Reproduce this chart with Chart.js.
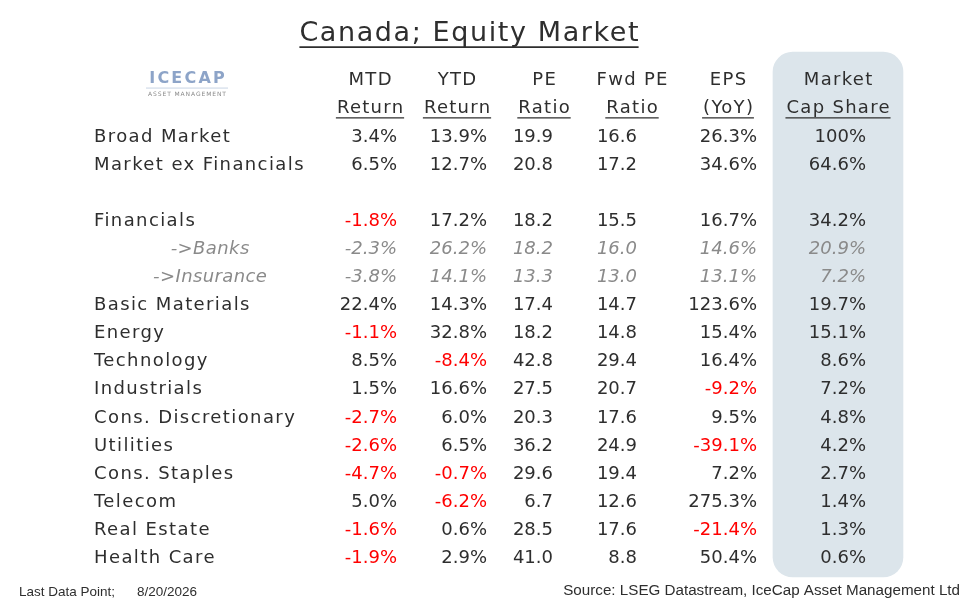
<!DOCTYPE html>
<html>
<head>
<meta charset="utf-8">
<script src="https://cdn.jsdelivr.net/npm/chart.js@4.4.1/dist/chart.umd.min.js"></script>
<style>
  html, body { margin: 0; padding: 0; background: #fff; }
  #wrap { width: 972px; height: 608px; }
</style>
</head>
<body>
<div id="wrap"><canvas id="tableChart" width="972" height="608"></canvas></div>
<script>
// Table data
const categories = ['Broad Market', 'Market ex Financials', 'Financials', '->Banks', '->Insurance',
  'Basic Materials', 'Energy', 'Technology', 'Industrials', 'Cons. Discretionary', 'Utilities',
  'Cons. Staples', 'Telecom', 'Real Estate', 'Health Care'];
const mtdReturn   = [3.4, 6.5, -1.8, -2.3, -3.8, 22.4, -1.1, 8.5, 1.5, -2.7, -2.6, -4.7, 5.0, -1.6, -1.9];
const ytdReturn   = [13.9, 12.7, 17.2, 26.2, 14.1, 14.3, 32.8, -8.4, 16.6, 6.0, 6.5, -0.7, -6.2, 0.6, 2.9];
const peRatio     = [19.9, 20.8, 18.2, 18.2, 13.3, 17.4, 18.2, 42.8, 27.5, 20.3, 36.2, 29.6, 6.7, 28.5, 41.0];
const fwdPeRatio  = [16.6, 17.2, 15.5, 16.0, 13.0, 14.7, 14.8, 29.4, 20.7, 17.6, 24.9, 19.4, 12.6, 17.6, 8.8];
const epsYoY      = [26.3, 34.6, 16.7, 14.6, 13.1, 123.6, 15.4, 16.4, -9.2, 9.5, -39.1, 7.2, 275.3, -21.4, 50.4];
const mktCapShare = [100, 64.6, 34.2, 20.9, 7.2, 19.7, 15.1, 8.6, 7.2, 4.8, 4.2, 2.7, 1.4, 1.3, 0.6];
const headerTop    = ['MTD', 'YTD', 'PE', 'Fwd PE', 'EPS', 'Market'];
const headerBottom = ['Return', 'Return', 'Ratio', 'Ratio', '(YoY)', 'Cap Share'];
const pctColumn    = [true, true, false, false, true, true];

const columns = [mtdReturn, ytdReturn, peRatio, fwdPeRatio, epsYoY, mktCapShare];

// layout (x in pixels, y in row units)
const colRight = [397, 487, 553, 637, 757, 866];
const colMid = [370, 457, 544, 632, 728, 838];
const labelX = 94, subLabelMid = 210;
const slot = i => (i < 2 ? i : i + 1); // blank line after Market ex Financials
const isSub = name => name.startsWith('->');

const FONT = '"DejaVu Sans", Verdana, sans-serif';
const SIZE = 18;
const DARK = '#2e2e2e';
const GREY = '#8a8a8a';

function fmt(v, pct) {
  if (v === 100) return '100%';
  return v.toFixed(1) + (pct ? '%' : '');
}

const datasets = columns.map((col, c) => ({
  type: 'scatter',
  label: headerTop[c],
  data: col.map((v, i) => ({ x: colRight[c], y: slot(i) })),
  pointRadius: 0,
  pointHoverRadius: 0
}));

// shaded market cap column
datasets.push({
  type: 'bar',
  label: 'shade',
  data: [{ x: colMid[5], y: [-2.95, 15.73] }],
  backgroundColor: '#dce5eb',
  barThickness: 130,
  borderRadius: 20,
  borderSkipped: false,
  order: 10
});

// draw text with its cap-height centred on y
function text(ctx, str, x, y, size, maxW) {
  if (maxW) ctx.fillText(str, x, y + size * 0.365, maxW);
  else ctx.fillText(str, x, y + size * 0.365);
}

function underline(ctx, x, y, w) {
  ctx.beginPath();
  ctx.moveTo(x, y);
  ctx.lineTo(x + w, y);
  ctx.stroke();
}

const tablePlugin = {
  id: 'tableText',
  afterDatasetsDraw(chart) {
    const ctx = chart.ctx;
    const xs = chart.scales.x, ys = chart.scales.y;
    ctx.save();
    ctx.textBaseline = 'alphabetic';

    // title
    ctx.fillStyle = DARK;
    ctx.strokeStyle = DARK;
    ctx.font = '27px ' + FONT;
    ctx.letterSpacing = '1.6px';
    ctx.textAlign = 'left';
    const title = 'Canada; Equity Market';
    const tw = ctx.measureText(title).width - 1.6;
    const tx = xs.getPixelForValue(469) - tw / 2;
    const ty = ys.getPixelForValue(-3.68);
    text(ctx, title, tx, ty, 27);
    ctx.lineWidth = 1.6;
    underline(ctx, tx, ty + 15.5, tw);

    // logo
    ctx.font = 'bold 16px ' + FONT;
    ctx.letterSpacing = '2.2px';
    ctx.fillStyle = '#8da4c8';
    let lw = ctx.measureText('ICECAP').width - 2.2;
    text(ctx, 'ICECAP', xs.getPixelForValue(187) - lw / 2, ys.getPixelForValue(-2.06), 16);
    ctx.strokeStyle = '#c8d4e4';
    ctx.lineWidth = 1;
    underline(ctx, xs.getPixelForValue(146), ys.getPixelForValue(-1.67), 82);
    ctx.font = '6px ' + FONT;
    ctx.letterSpacing = '0.9px';
    ctx.fillStyle = '#8a8a8a';
    lw = ctx.measureText('ASSET MANAGEMENT').width - 0.9;
    text(ctx, 'ASSET MANAGEMENT', xs.getPixelForValue(187) - lw / 2, ys.getPixelForValue(-1.45), 6);

    // column headers
    ctx.fillStyle = DARK;
    ctx.strokeStyle = DARK;
    ctx.lineWidth = 1.3;
    ctx.font = SIZE + 'px ' + FONT;
    ctx.letterSpacing = '1.3px';
    headerTop.forEach((h, c) => {
      const cx = xs.getPixelForValue(colMid[c]);
      const w1 = ctx.measureText(h).width - 1.3;
      text(ctx, h, cx - w1 / 2, ys.getPixelForValue(-2.03), SIZE);
      const by = ys.getPixelForValue(-1.0);
      const w2 = ctx.measureText(headerBottom[c]).width - 1.3;
      text(ctx, headerBottom[c], cx - w2 / 2, by, SIZE);
      underline(ctx, cx - w2 / 2 - 1, by + 11, w2 + 2);
    });

    // row labels
    categories.forEach((name, i) => {
      const py = ys.getPixelForValue(slot(i));
      if (isSub(name)) {
        ctx.font = 'italic ' + SIZE + 'px ' + FONT;
        ctx.letterSpacing = '0.4px';
        ctx.fillStyle = GREY;
        const w = ctx.measureText(name).width - 0.4;
        text(ctx, name, xs.getPixelForValue(subLabelMid) - w / 2, py, SIZE);
      } else {
        ctx.font = SIZE + 'px ' + FONT;
        ctx.letterSpacing = '1.4px';
        ctx.fillStyle = DARK;
        text(ctx, name, xs.getPixelForValue(labelX), py, SIZE);
      }
    });

    // cells
    ctx.letterSpacing = '0px';
    ctx.textAlign = 'right';
    columns.forEach((col, c) => {
      const meta = chart.getDatasetMeta(c);
      meta.data.forEach((pt, i) => {
        const v = col[i];
        const sub = isSub(categories[i]);
        ctx.font = (sub ? 'italic ' : '') + SIZE + 'px ' + FONT;
        ctx.fillStyle = sub ? GREY : (v < 0 ? '#ff0000' : DARK);
        text(ctx, fmt(v, pctColumn[c]), pt.x, pt.y, SIZE);
      });
    });

    // footer
    ctx.fillStyle = DARK;
    ctx.textAlign = 'left';
    ctx.font = '13.5px "Liberation Sans", Arial, sans-serif';
    const fy = ys.getPixelForValue(16.23);
    text(ctx, 'Last Data Point;', xs.getPixelForValue(19), fy, 13.5, 96);
    text(ctx, '8/20/2026', xs.getPixelForValue(137), fy, 13.5, 63);
    ctx.textAlign = 'right';
    ctx.font = '15.2px "Liberation Sans", Arial, sans-serif';
    text(ctx, 'Source: LSEG Datastream, IceCap Asset Management Ltd', xs.getPixelForValue(960), ys.getPixelForValue(16.19), 15.2, 398);

    ctx.restore();
  }
};

new Chart(document.getElementById('tableChart'), {
  type: 'scatter',
  data: { datasets: datasets },
  options: {
    responsive: false,
    animation: false,
    layout: { padding: 0 },
    plugins: { legend: { display: false }, tooltip: { enabled: false } },
    scales: {
      x: { type: 'linear', min: 0, max: 972, offset: false, display: false },
      y: { type: 'linear', min: -4.804, max: 16.833, reverse: true, offset: false, display: false }
    }
  },
  plugins: [tablePlugin]
});
</script>
</body>
</html>
